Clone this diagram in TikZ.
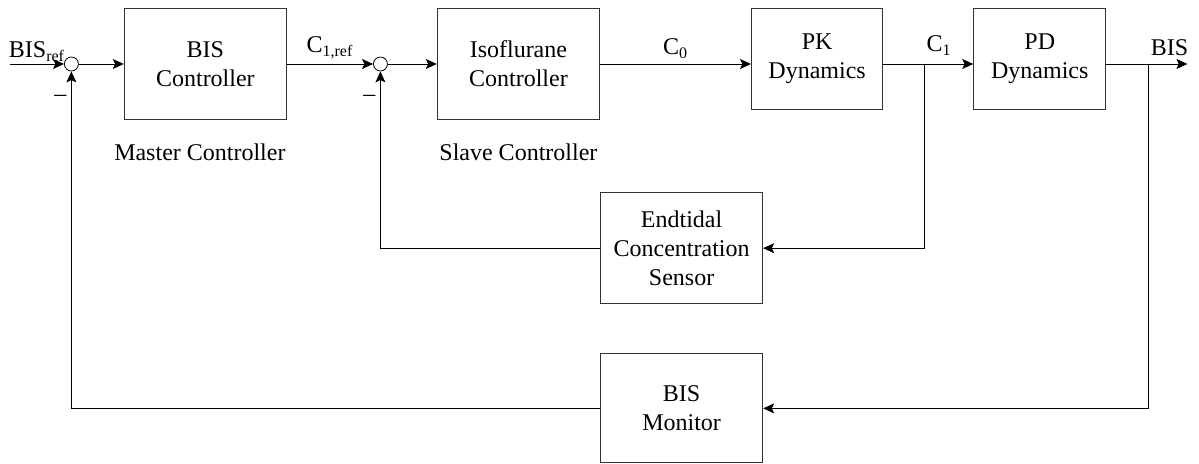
\documentclass[tikz,border=0pt,12pt]{standalone}
\usepackage{fontspec}
\setmainfont{Liberation Serif}
\usepackage{tikz}
\usetikzlibrary{shapes,arrows,arrows.meta}
\usetikzlibrary{calc, positioning}
\tikzstyle{block} = [rectangle, draw=black!80, line width=0.6pt,
    align=center, minimum height=55.5pt]
\tikzstyle{sum} = [circle, draw, inner sep=0pt, minimum size=7pt]
\tikzstyle{line} = [draw, -{Stealth[length=5.5pt,width=5pt,inset=1.2pt]}]

\begin{document}
\begin{tikzpicture}[]
        \useasboundingbox (-5pt,32pt) rectangle (594.5pt,-200pt);
        % Place nodes
        \coordinate (in) at (0,0);
        \node [sum] (S1) [right=27pt of in] {};
        \node [block, minimum width=81pt] (BISC) [right=22.5pt of S1] {BIS\\Controller};
        \node [sum] (S2) [right=43pt of BISC] {};
        \node [block, minimum width=81pt] (Iso) [right=24.5pt of S2] {Isoflurane\\Controller};
        \node [block, minimum width=65.5pt, minimum height=50.5pt] (PK) [right=75.5pt of Iso.north east, anchor=north west] {PK\\Dynamics};
        \node [block, minimum width=66pt, minimum height=50.5pt] (PD) [right=45pt of PK] {PD\\Dynamics};
        \node [block, minimum width=81pt] (Sensor) [below right=36pt and 0pt of Iso.south east] {Endtidal\\Concentration\\Sensor};
        \node [block, minimum width=81pt, minimum height=54.5pt] (Monitor) [below=24.5pt of Sensor] {BIS\\Monitor};
        \node (Master) [below=7.5pt of BISC, xshift=-2.75pt] {Master Controller};
        \node (Slave) [below=7.5pt of Iso] {Slave Controller};
        \node (m1) at ([xshift=-5.5pt,yshift=-17pt]S1.center) {–};
        \node (m2) at ([xshift=-5.5pt,yshift=-17pt]S2.center) {–};
        \coordinate (c1) at ($(PK.east |- S1)+(20.5pt,0)$);
        \coordinate (bis) at ($(PD.east |- S1)+(21pt,0)$);
        \coordinate (out) at ($(PD.east |- S1)+(40.5pt,0)$);
        % Draw edges
        \path [line] (in) -- node [above, inner sep=1pt] {BIS\textsubscript{ref}} (S1);
        \path [line] (S1) -- (BISC);
        \path [line] (BISC) -- node [above, inner ysep=2.5pt] {C\textsubscript{1,ref}} (S2);
        \path [line] (S2) -- (Iso);
        \path [line] (Iso.east) -- node [above, inner ysep=2.5pt] {C\textsubscript{0}} (Iso.east -| PK.west);
        \path [line] (PK.east |- S1) -- (PD.west |- S1);
        \path [line] (PD.east |- S1) -- (out);
        \node [above right, inner xsep=1pt] at (c1) {C\textsubscript{1}};
        \node [above right, inner xsep=1pt] at (bis) {BIS};
        \path [line] (c1) |- (Sensor);
        \path [line] (Sensor) -| (S2);
        \path [line] (bis) |- (Monitor);
        \path [line] (Monitor) -| (S1);
    \end{tikzpicture}
\end{document}
